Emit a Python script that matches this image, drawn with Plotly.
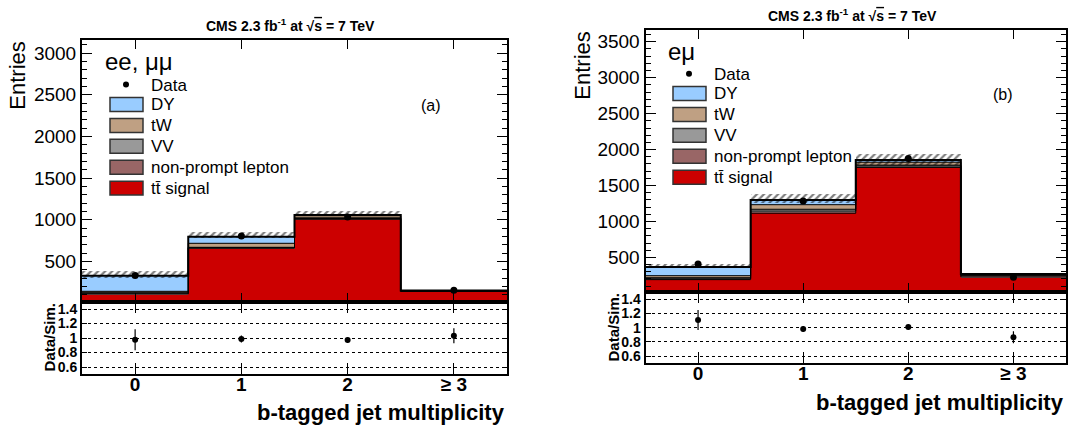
import numpy as np
import plotly.graph_objects as go

# ---------------- data ----------------
categories = ["0", "1", "2", "\u2265 3"]
bins = [0, 1, 2, 3]
edges = [-0.5, 0.5, 1.5, 2.5, 3.5]

# panel (a) ee, mumu
a_tt = [110, 659, 1006, 140]
a_np = [8, 6, 10, 3]
a_vv = [12, 5, 8, 2]
a_tw = [12, 48, 25, 5]
a_dy = [188, 80, 10, 2]
a_data = [332, 806, 1035, 155]
a_band_lo = [300, 785, 1045, 148]
a_band_hi = [388, 851, 1109, 160]
a_ratio = [0.976, 0.986, 0.972, 1.032]
a_ratio_err = [0.145, 0.048, 0.04, 0.105]

# panel (b) e mu
b_tt = [191, 1115, 1752, 228]
b_np = [12, 30, 20, 18]
b_vv = [15, 25, 12, 8]
b_tw = [28, 64, 41, 14]
b_dy = [121, 66, 30, 2]
b_data = [408, 1285, 1877, 223]
b_band_lo = [355, 1255, 1790, 262]
b_band_hi = [408, 1378, 1946, 275]
b_ratio = [1.108, 0.982, 1.01, 0.865]
b_ratio_err = [0.14, 0.04, 0.035, 0.085]

a_ticks = [500, 1000, 1500, 2000, 2500, 3000]
b_ticks = [500, 1000, 1500, 2000, 2500, 3000, 3500]
ratio_ticks = [0.6, 0.8, 1.0, 1.2, 1.4]
ratio_ticktext = ["0.6", "0.8", "1", "1.2", "1.4"]

layer_names = ["tt\u0304 signal", "non-prompt lepton", "VV", "tW", "DY"]
layer_colors = ["#cc0000", "#996666", "#999999", "#bfa083", "#99ccff"]

W, H = 1090, 426
FONT = "Liberation Sans, Arial, sans-serif"

fig = go.Figure()


def px(x):
    return x / W


def py(y):
    return 1 - y / H


def add_panel(xa, ya, xr, yr, layers, data, band_lo, band_hi, ratio, ratio_err):
    cum = np.zeros(4)
    tops = []
    for vals, col in zip(layers, layer_colors):
        vals = np.array(vals, dtype=float)
        fig.add_trace(go.Bar(x=bins, y=vals, base=cum.copy(), width=1.0,
                             marker=dict(color=col, line=dict(width=0)),
                             xaxis=xa, yaxis=ya, showlegend=False, hoverinfo="skip"))
        cum = cum + vals
        tops.append(cum.copy())
    for i, t in enumerate(tops):
        fig.add_trace(go.Scatter(x=edges, y=list(t) + [t[-1]], mode="lines",
                                 line=dict(color="black", width=2 if i == len(tops) - 1 else 1, shape="hv"),
                                 xaxis=xa, yaxis=ya, showlegend=False, hoverinfo="skip"))
    lo = np.array(band_lo, dtype=float)
    hi = np.array(band_hi, dtype=float)
    fig.add_trace(go.Bar(x=bins, y=hi - lo, base=lo, width=1.0,
                         marker=dict(color="rgba(0,0,0,0)", line=dict(width=0),
                                     pattern=dict(shape="/", fgcolor="black", bgcolor="rgba(0,0,0,0)",
                                                  size=5, solidity=0.45, fillmode="overlay")),
                         xaxis=xa, yaxis=ya, showlegend=False, hoverinfo="skip"))
    fig.add_trace(go.Scatter(x=bins, y=data, mode="markers",
                             marker=dict(color="black", size=7),
                             xaxis=xa, yaxis=ya, showlegend=False, hoverinfo="skip"))
    fig.add_trace(go.Scatter(x=bins, y=ratio, mode="markers",
                             marker=dict(color="black", size=6),
                             error_y=dict(type="data", array=ratio_err, width=0, thickness=1.2, color="black"),
                             xaxis=xr, yaxis=yr, showlegend=False, hoverinfo="skip"))


add_panel("x", "y", "x2", "y2", [a_tt, a_np, a_vv, a_tw, a_dy], a_data, a_band_lo, a_band_hi, a_ratio, a_ratio_err)
add_panel("x3", "y3", "x4", "y4", [b_tt, b_np, b_vv, b_tw, b_dy], b_data, b_band_lo, b_band_hi, b_ratio, b_ratio_err)

common_x = dict(range=[-0.5, 3.5], tickvals=bins, ticks="inside", mirror="ticks",
                showline=True, linewidth=2, linecolor="black", tickcolor="black",
                showgrid=False, zeroline=False, fixedrange=True)
common_y = dict(ticks="inside", mirror="ticks", showline=True, linewidth=2, linecolor="black",
                tickcolor="black", zeroline=False, fixedrange=True)

aL, aR = px(82), px(507)
bL, bR = px(645.5), px(1066)
a_main = [py(302.3), py(39)]
a_rat = [py(375), py(302.3)]
b_main = [py(292.3), py(29)]
b_rat = [py(364), py(292.3)]

main_y_font = dict(family=FONT, size=19, color="black")
ratio_y_font = dict(family=FONT, size=14, color="black", weight="bold")
x_font = dict(family=FONT, size=19, color="black", weight="bold")

fig.update_layout(
    width=W, height=H, margin=dict(l=0, r=0, t=0, b=0), autosize=False,
    paper_bgcolor="white", plot_bgcolor="white", barmode="overlay", bargap=0,
    font=dict(family=FONT, color="black"),
    xaxis=dict(domain=[aL, aR], anchor="y", showticklabels=False, ticklen=9, **common_x),
    yaxis=dict(domain=a_main, anchor="x", range=[15, 3160], tickvals=a_ticks,
               ticktext=[str(v) for v in a_ticks], ticklen=10, tickfont=main_y_font, showgrid=False,
               minor=dict(dtick=100, ticklen=5, ticks="inside", tickcolor="black", showgrid=False), **common_y),
    xaxis2=dict(domain=[aL, aR], anchor="y2", ticktext=categories, ticklen=11, tickfont=x_font,
                ticklabelstandoff=-8, **common_x),
    yaxis2=dict(domain=a_rat, anchor="x2", range=[0.5, 1.5], tickvals=ratio_ticks, ticktext=ratio_ticktext,
                ticklen=5, tickfont=ratio_y_font, showgrid=True, gridcolor="black", griddash="dot",
                gridwidth=1, **common_y),
    xaxis3=dict(domain=[bL, bR], anchor="y3", showticklabels=False, ticklen=9, **common_x),
    yaxis3=dict(domain=b_main, anchor="x3", range=[20, 3666], tickvals=b_ticks,
                ticktext=[str(v) for v in b_ticks], ticklen=10, tickfont=main_y_font, showgrid=False,
                minor=dict(dtick=100, ticklen=5, ticks="inside", tickcolor="black", showgrid=False), **common_y),
    xaxis4=dict(domain=[bL, bR], anchor="y4", ticktext=categories, ticklen=11, tickfont=x_font,
                ticklabelstandoff=-8, **common_x),
    yaxis4=dict(domain=b_rat, anchor="x4", range=[0.5, 1.5], tickvals=ratio_ticks, ticktext=ratio_ticktext,
                ticklen=5, tickfont=ratio_y_font, showgrid=True, gridcolor="black", griddash="dot",
                gridwidth=1, **common_y),
)

ann = []


def text(x, y, s, size, bold=False, xanchor="left", angle=0):
    ann.append(dict(x=px(x), y=py(y), xref="paper", yref="paper", text=s, showarrow=False,
                    xanchor=xanchor, yanchor="middle", textangle=angle,
                    font=dict(family=FONT, size=size, color="black", weight="bold" if bold else "normal")))


title = "CMS 2.3 fb<sup>-1</sup> at \u221a<span style='text-decoration:overline'>s</span> = 7 TeV"
text(290, 24, title, 14, bold=True, xanchor="center")
text(852, 14, title, 14, bold=True, xanchor="center")

text(18, 75, "Entries", 22, xanchor="center", angle=-90)
text(583, 65, "Entries", 22, xanchor="center", angle=-90)
text(49, 338, "Data/Sim.", 15, bold=True, xanchor="center", angle=-90)
text(613, 328, "Data/Sim.", 15, bold=True, xanchor="center", angle=-90)
text(507, 413, "b-tagged jet multiplicity", 22, bold=True, xanchor="right")
text(1066, 403, "b-tagged jet multiplicity", 22, bold=True, xanchor="right")

text(103, 61, "ee, \u03bc\u03bc", 24)
text(666, 51, "e\u03bc", 24)
text(431, 105, "(a)", 16, xanchor="center")
text(1003, 94, "(b)", 16, xanchor="center")

shapes = []


def legend(x_dot, y_dot, x_text, box_x0, box_x1, rows):
    shapes.append(dict(type="circle", xref="paper", yref="paper",
                       x0=px(x_dot - 3), x1=px(x_dot + 3), y0=py(y_dot + 3), y1=py(y_dot - 3),
                       fillcolor="black", line=dict(width=0)))
    text(x_text, y_dot + 1, "Data", 17)
    order = ["DY", "tW", "VV", "non-prompt lepton", "tt\u0304 signal"]
    for name, yc in zip(order, rows):
        col = layer_colors[layer_names.index(name)]
        shapes.append(dict(type="rect", xref="paper", yref="paper",
                           x0=px(box_x0), x1=px(box_x1), y0=py(yc + 7), y1=py(yc - 7),
                           fillcolor=col, line=dict(color="#333333", width=1.5)))
        text(x_text, yc, name, 17)


legend(126, 84, 149, 110, 143, [104, 125, 146, 167, 188])
legend(689, 73, 712, 673, 706, [93, 114, 135, 156, 177])

fig.update_layout(annotations=ann, shapes=shapes)
fig.write_html("out.html", config={"displayModeBar": False},
               post_script="document.body.style.margin='0px';document.body.style.overflow='hidden';")
